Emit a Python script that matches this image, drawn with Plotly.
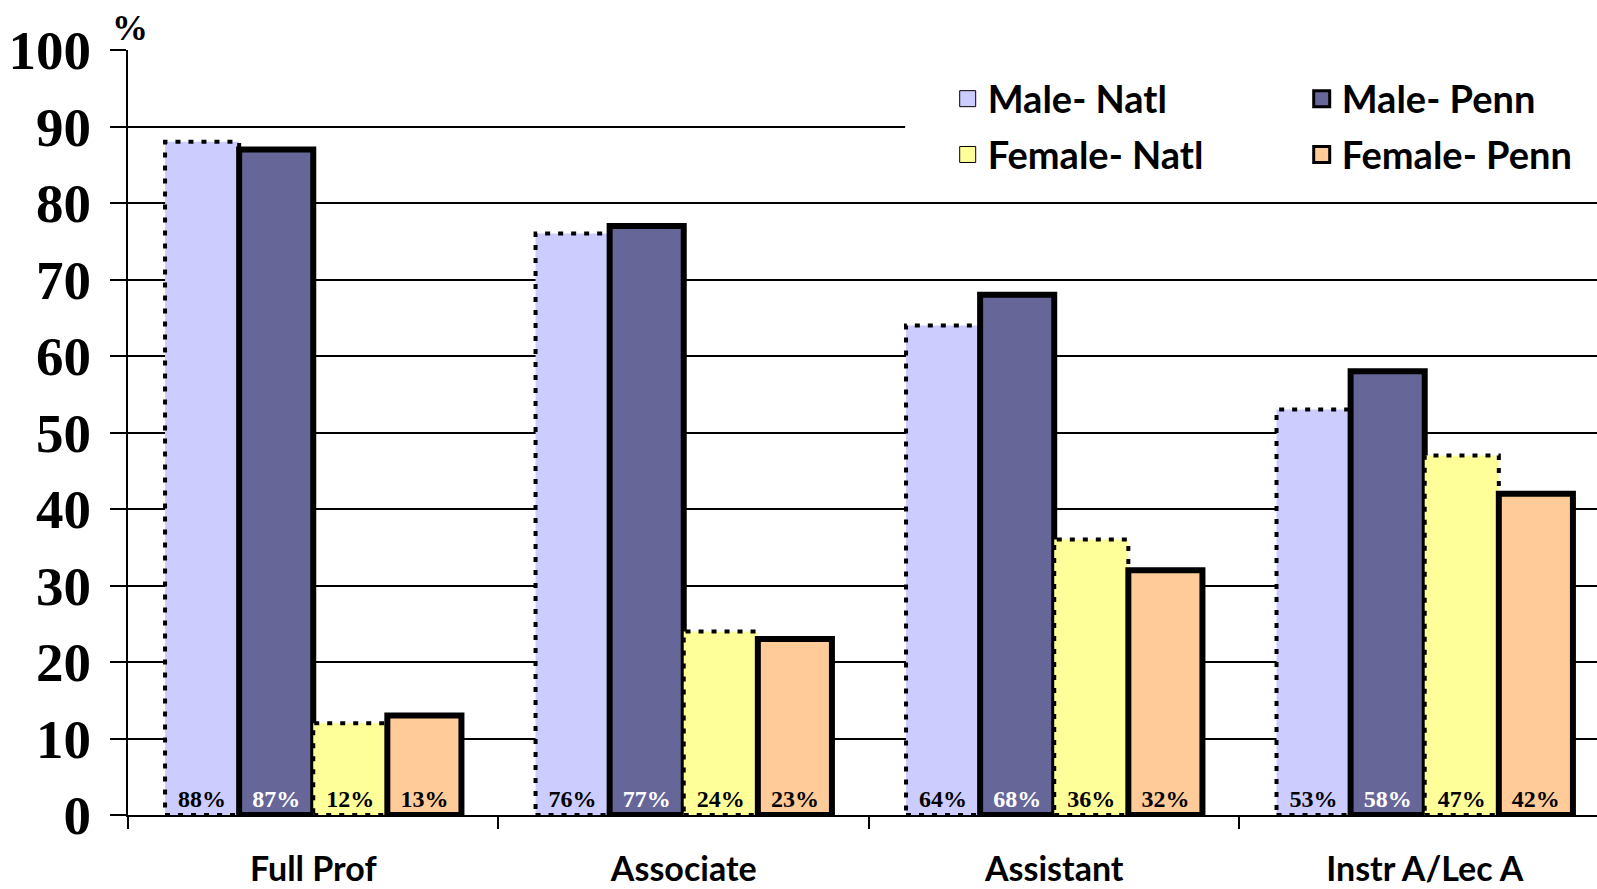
import plotly.graph_objects as go

categories = ["Full Prof", "Associate", "Assistant", "Instr A/Lec A"]
male_natl = [88, 76, 64, 53]
male_penn = [87, 77, 68, 58]
female_natl = [12, 24, 36, 47]
female_penn = [13, 23, 32, 42]

series_names = ["Male- Natl", "Male- Penn", "Female- Natl", "Female- Penn"]
series_values = [male_natl, male_penn, female_natl, female_penn]
series_colors = ["#CCCCFF", "#666699", "#FFFF99", "#FFCC99"]
text_colors = ["black", "white", "black", "black"]
is_natl = [True, False, True, False]
legend_ids = ["legend", "legend", "legend2", "legend2"]

LABEL_FONT = "Lato"
NUM_FONT = "Liberation Serif"
BARGAP = 0.2
n_series = len(series_values)

fig = go.Figure()
for k in range(n_series):
    vals = series_values[k]
    fig.add_trace(go.Bar(
        x=categories, y=vals, name=series_names[k],
        marker=dict(color=series_colors[k],
                    line=dict(color="black", width=0 if is_natl[k] else 6)),
        text=[f"{v}%" for v in vals],
        textposition="inside", insidetextanchor="start",
        textfont=dict(family=NUM_FONT, size=24, color=text_colors[k], weight="bold"),
        textangle=0, showlegend=False,
    ))

# legend entries (no data, symbol only)
for k in range(n_series):
    fig.add_trace(go.Scatter(
        x=[None], y=[None], mode="markers", name=series_names[k],
        marker=dict(symbol="square", size=16, color=series_colors[k],
                    line=dict(color="black", width=1 if is_natl[k] else 3)),
        legend=legend_ids[k], showlegend=True,
    ))

# dotted outlines for the national bars (positions derived from bar layout)
bw = (1 - BARGAP) / n_series
shapes = []
for k in range(n_series):
    if not is_natl[k]:
        continue
    for i, v in enumerate(series_values[k]):
        x0 = i - (1 - BARGAP) / 2 + k * bw
        shapes.append(dict(type="rect", xref="x", yref="y",
                           x0=x0, x1=x0 + bw, y0=0, y1=v,
                           line=dict(color="black", width=4, dash="5px,8px"),
                           fillcolor="rgba(0,0,0,0)", layer="above"))
# white backing behind the legend block
shapes.append(dict(type="rect", xref="paper", yref="paper",
                   x0=0.529, x1=1.0, y0=0.82, y1=0.985,
                   line=dict(width=0), fillcolor="white", layer="above"))

legend_font = dict(family=LABEL_FONT, size=38, color="black", weight="bold")
fig.update_layout(
    width=1597, height=889,
    margin=dict(l=128, r=0, t=50, b=74, autoexpand=False),
    paper_bgcolor="white", plot_bgcolor="white",
    barmode="group", bargap=BARGAP, bargroupgap=0,
    shapes=shapes,
    xaxis=dict(type="category", range=[-0.5, 3.465],
               showline=True, linecolor="black", linewidth=2,
               ticks="outside", tickson="boundaries", ticklen=12, tickwidth=2, tickcolor="black",
               tickfont=dict(family=LABEL_FONT, size=34, color="black", weight="bold"),
               ticklabelstandoff=23, showgrid=False, automargin=False),
    yaxis=dict(range=[0, 100], dtick=10, tick0=0,
               showline=True, linecolor="black", linewidth=2,
               ticks="outside", ticklen=16, tickwidth=2, tickcolor="black",
               showgrid=True, gridcolor="black", gridwidth=2,
               zeroline=False, automargin=False,
               tickfont=dict(family=NUM_FONT, size=55, color="black", weight="bold"),
               ticklabelstandoff=8),
    legend=dict(orientation="h", x=0.558, y=0.936, xanchor="left", yanchor="middle",
                entrywidth=309, entrywidthmode="pixels",
                bgcolor="rgba(0,0,0,0)", borderwidth=0,
                font=legend_font, traceorder="normal"),
    legend2=dict(orientation="h", x=0.558, y=0.863, xanchor="left", yanchor="middle",
                 entrywidth=309, entrywidthmode="pixels",
                 bgcolor="rgba(0,0,0,0)", borderwidth=0,
                 font=legend_font, traceorder="normal"),
    annotations=[dict(text="%", xref="paper", yref="paper", x=0.0014, y=1.029,
                      xanchor="center", yanchor="middle", showarrow=False,
                      font=dict(family=NUM_FONT, size=36, color="black", weight="bold"))],
)

fig.write_html("out.html", config={"displayModeBar": False},
               post_script="document.body.style.margin='0';document.body.style.overflow='hidden';")
